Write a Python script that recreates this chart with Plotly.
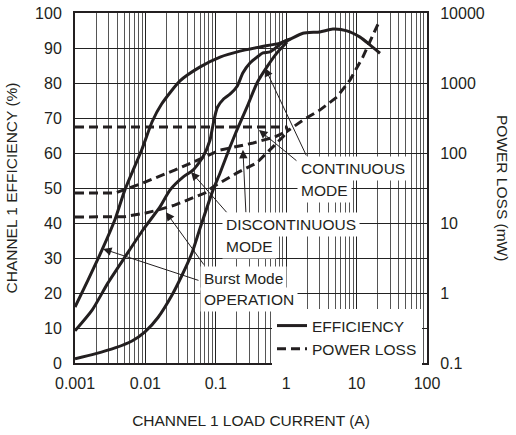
import math
import plotly.graph_objects as go

# ---------------- data ----------------
burst_eff_x = [0.001, 0.00153, 0.00242, 0.0037, 0.0051, 0.0089, 0.0125, 0.017, 0.031, 0.06, 0.115, 0.22, 0.425, 0.82, 1.13, 1.73, 3.0, 4.6, 7.3, 11.2, 15.5, 21.5]
burst_eff_y = [16, 23.7, 32.3, 41, 49.4, 61, 69, 74, 80.6, 84.6, 87.4, 89.1, 90.3, 91.4, 92.5, 94.2, 94.6, 95.4, 94.9, 93.1, 90.9, 88.5]

disc_eff_x = [0.001, 0.00175, 0.00294, 0.00513, 0.0092, 0.0161, 0.0223, 0.0342, 0.0474, 0.0658, 0.0828, 0.0912, 0.105, 0.13, 0.159, 0.2, 0.243, 0.306, 0.385, 0.468, 0.589, 0.74, 0.9, 1.13]
disc_eff_y = [9.2, 15.1, 22.9, 30.3, 38, 44.6, 49.4, 53.1, 55.1, 58.9, 63.7, 68, 73, 75.5, 76.8, 79, 82.9, 85.7, 87.4, 88.6, 88.9, 90.3, 91.7, 92.5]

cont_eff_x = [0.001, 0.00192, 0.0037, 0.00645, 0.00987, 0.0151, 0.024, 0.033, 0.046, 0.0597, 0.0912, 0.115, 0.159, 0.2, 0.277, 0.385, 0.533, 0.74, 1.03]
cont_eff_y = [1.2, 2.6, 4.3, 6.3, 8.9, 13, 19.5, 25, 31.5, 38.5, 49.4, 54.3, 61.7, 66.6, 73.1, 80, 84.6, 88.6, 91.7]

burst_loss_x = [0.001, 0.005, 0.0098, 0.015, 0.026, 0.07, 0.091, 0.2, 0.38, 0.58, 0.9, 1.05]
burst_loss_y = [12.2, 12.3, 13.8, 15.3, 18, 26.8, 32.7, 52, 72, 110, 170, 207]

disc_loss_x = [0.001, 0.0037, 0.009, 0.026, 0.07, 0.115, 0.34, 0.69, 1.05]
disc_loss_y = [26.8, 26.8, 37, 57, 88, 110, 139, 170, 207]

cont_loss_x = [0.001, 1.0, 1.05, 1.74, 3.0, 5.25, 8.05, 12.3, 21.4]
cont_loss_y = [235, 235, 207, 296, 410, 630, 1100, 2360, 7940]

x_tickvals = [0.001, 0.01, 0.1, 1, 10, 100]
x_ticktext = ["0.001", "0.01", "0.1", "1", "10", "100"]
y2_tickvals = [0.1, 1, 10, 100, 1000, 10000]
y2_ticktext = ["0.1", "1", "10", "100", "1000", "10000"]

# ---------------- style ----------------
FONT = "Liberation Sans, Arial, sans-serif"
INK = "#231f20"
FS = 15.5
TFS = 16
L, T, W, H = 75, 13, 352, 350
FW, FH = 516, 435


def px(xp):
    return (xp - L) / W


def py(yp):
    return (T + H - yp) / H


fig = go.Figure()
solid = dict(color=INK, width=3, shape="spline", smoothing=0.6)
dashed = dict(color=INK, width=3, dash="9px,5px")

fig.add_trace(go.Scatter(x=burst_eff_x, y=burst_eff_y, mode="lines", line=solid,
                         name="EFFICIENCY", showlegend=True))
fig.add_trace(go.Scatter(x=disc_eff_x, y=disc_eff_y, mode="lines", line=solid, showlegend=False))
fig.add_trace(go.Scatter(x=cont_eff_x, y=cont_eff_y, mode="lines", line=solid, showlegend=False))

fig.add_trace(go.Scatter(x=cont_loss_x, y=cont_loss_y, mode="lines", line=dashed, yaxis="y2",
                         name="POWER LOSS", showlegend=True))
fig.add_trace(go.Scatter(x=disc_loss_x, y=disc_loss_y, mode="lines", line=dashed, yaxis="y2", showlegend=False))
fig.add_trace(go.Scatter(x=burst_loss_x, y=burst_loss_y, mode="lines", line=dashed, yaxis="y2", showlegend=False))

# arrows: head in data coords, tail offset in px
arrows = [
    (0.5, 84.3, 42, 89),
    (0.41, 66.6, 39, 32),
    (0.0445, 54.6, 37, 42),
    (0.243, 60.9, 3, 64),
    (0.0025, 32.6, 97, 32),
    (0.0196, 43.1, 39, 54),
]
annotations = []
for hx, hy, ax, ay in arrows:
    annotations.append(dict(x=math.log10(hx), y=hy, xref="x", yref="y", ax=ax, ay=ay,
                            text="", showarrow=True, arrowhead=2, arrowsize=1.7,
                            arrowwidth=1, arrowcolor=INK, standoff=0, startstandoff=0))

labels = [
    ("CONTINUOUS", 297, 168),
    ("MODE", 297, 190),
    ("DISCONTINUOUS", 222, 224),
    ("MODE", 222, 246),
    ("Burst Mode", 200, 278),
    ("OPERATION", 200, 299),
]
for txt, lx, ly in labels:
    annotations.append(dict(x=px(lx), y=py(ly), xref="paper", yref="paper", text=txt,
                            showarrow=False, xanchor="left", yanchor="middle",
                            bgcolor="white", borderpad=3,
                            font=dict(family=FONT, size=FS, color=INK)))

# right axis title (reads top to bottom)
annotations.append(dict(x=px(503), y=py(188), xref="paper", yref="paper",
                        text="POWER LOSS (mW)", showarrow=False, textangle=90,
                        xanchor="center", yanchor="middle",
                        font=dict(family=FONT, size=FS, color=INK)))

axis_common = dict(showline=True, linecolor=INK, linewidth=2, mirror=True, ticks="",
                   tickfont=dict(family=FONT, size=TFS, color=INK),
                   title_font=dict(family=FONT, size=FS, color=INK), zeroline=False,
                   automargin=False)

fig.update_layout(
    width=FW, height=FH,
    margin=dict(l=L, r=FW - L - W, t=T, b=FH - T - H),
    paper_bgcolor="white", plot_bgcolor="white",
    font=dict(family=FONT, size=FS, color=INK),
    xaxis=dict(type="log", range=[-3, 2], tickvals=x_tickvals, ticktext=x_ticktext,
               showgrid=True, gridcolor="#222", gridwidth=1,
               minor=dict(showgrid=True, gridcolor="#555", gridwidth=1, dtick="D1"),
               title=dict(text="CHANNEL 1 LOAD CURRENT (A)", standoff=24),
               ticklabelstandoff=5, **axis_common),
    yaxis=dict(range=[0, 100], dtick=10, showgrid=True, gridcolor="#222", gridwidth=1,
               title=dict(text="CHANNEL 1 EFFICIENCY (%)", standoff=14),
               ticklabelstandoff=8, **axis_common),
    yaxis2=dict(type="log", range=[-1, 4], overlaying="y", side="right", showgrid=False,
                tickvals=y2_tickvals, ticktext=y2_ticktext,
                ticklabelstandoff=8, **axis_common),
    legend=dict(x=px(272), y=py(366), xanchor="left", yanchor="bottom", bgcolor="white",
                borderwidth=0, font=dict(family=FONT, size=FS, color=INK),
                itemwidth=30, tracegroupgap=0),
    annotations=annotations,
    showlegend=True,
)

fig.write_html("out.html", post_script="document.body.style.margin='0';",
               config={"displayModeBar": False})
